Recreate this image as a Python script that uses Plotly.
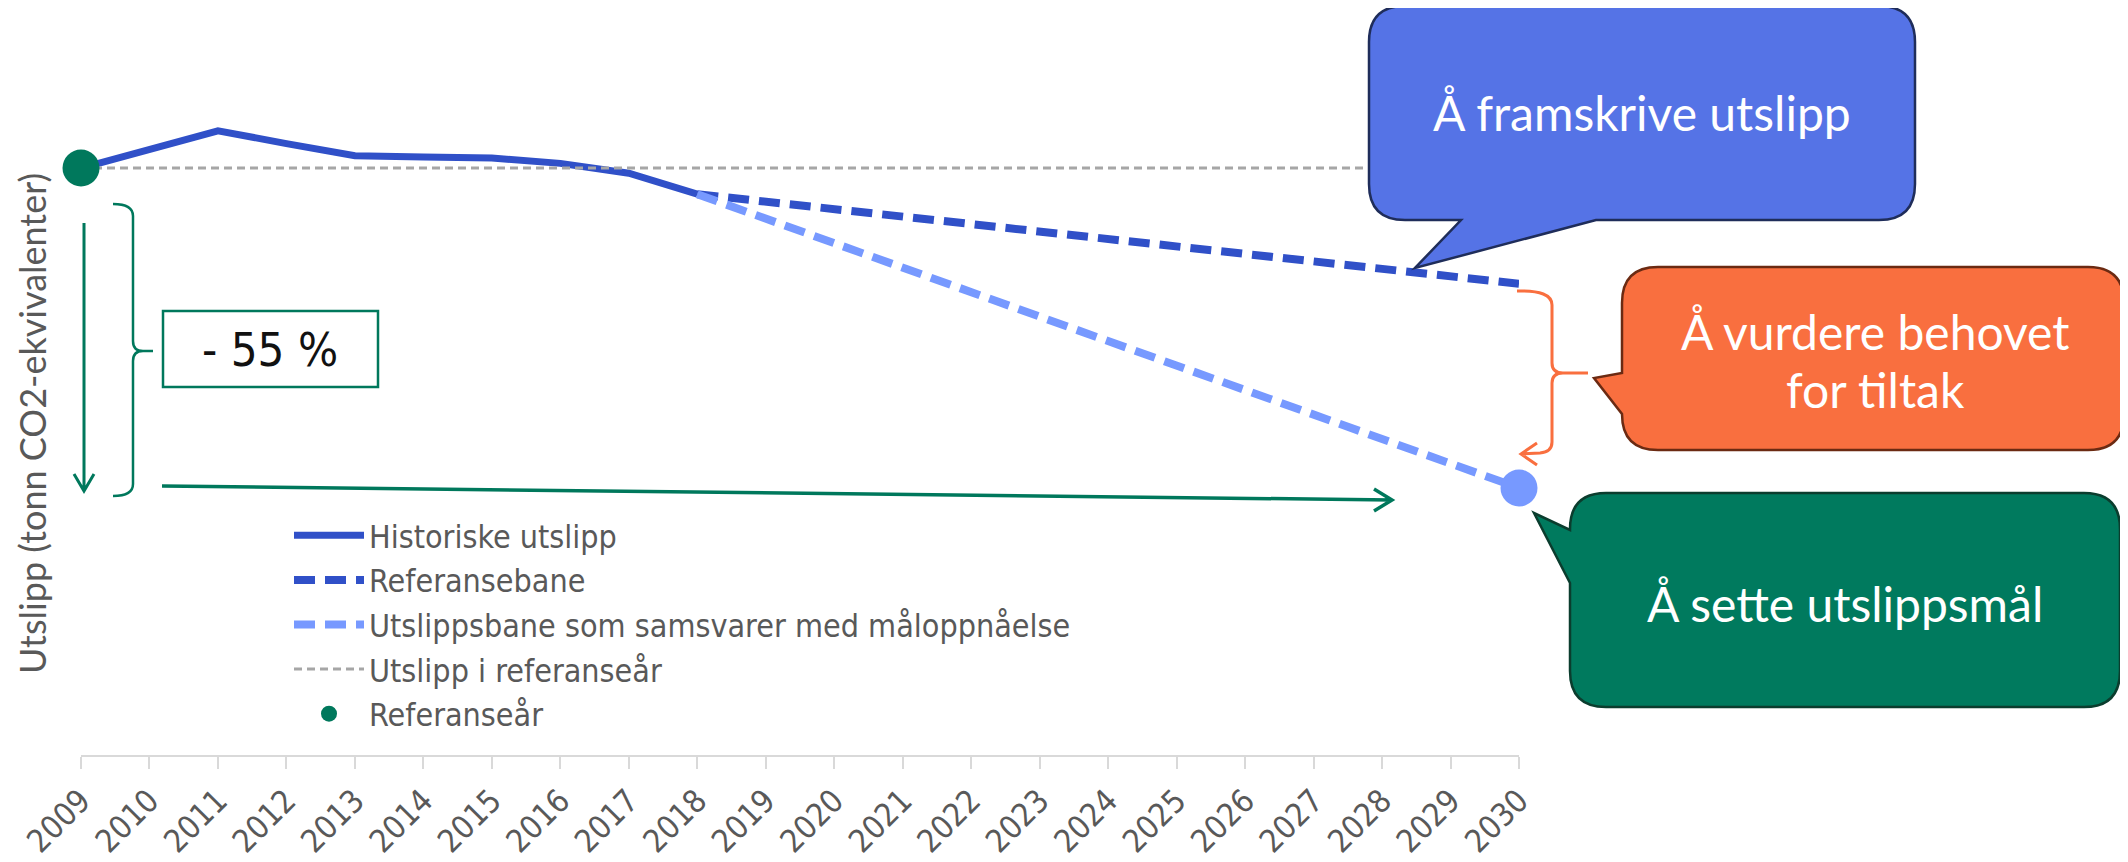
import plotly.graph_objects as go

# ---------------- data ----------------
hist_years = [2009, 2010, 2011, 2012, 2013, 2014, 2015, 2016, 2017, 2018]
hist_values = [100, 103.2, 106.4, 104.2, 102.1, 101.9, 101.7, 100.8, 99.1, 95.5]

proj_years = [2018, 2030]
reference_path = [95.5, 80.1]
target_path = [95.5, 45.0]

ref_level_years = [2009, 2030]
ref_level_values = [100, 100]

ref_year = [2009]
ref_year_value = [100]

target_year = [2030]
target_value = [45.0]

tick_years = [2009, 2010, 2011, 2012, 2013, 2014, 2015, 2016, 2017, 2018, 2019,
              2020, 2021, 2022, 2023, 2024, 2025, 2026, 2027, 2028, 2029, 2030]
tick_labels = ["2009", "2010", "2011", "2012", "2013", "2014", "2015", "2016",
               "2017", "2018", "2019", "2020", "2021", "2022", "2023", "2024",
               "2025", "2026", "2027", "2028", "2029", "2030"]

series_names = ["Historiske utslipp", "Referansebane",
                "Utslippsbane som samsvarer med måloppnåelse",
                "Utslipp i referanseår", "Referanseår"]

# ---------------- style ----------------
BLUE = "#3050C8"
LIGHT_BLUE = "#7799FF"
GREEN = "#00785C"
GREY = "#A6A6A6"
ORANGE = "#F96F3F"
TEXT = "#595959"
COND = "Liberation Sans Narrow, DejaVu Sans Condensed, Roboto, sans-serif"
MAIN = "Lato, Open Sans, sans-serif"

# the page body has an 8px margin: the figure starts at (8, 8) in the window
PAGE_OFF = 8
FW, FH = 2128 - PAGE_OFF, 862 - PAGE_OFF
PLOT_L, PLOT_R, PLOT_T, PLOT_B = 81, 1519, 20, 755      # plot area in window pixels
ML = PLOT_L - PAGE_OFF
MT = PLOT_T - PAGE_OFF
MR = PAGE_OFF + FW - PLOT_R
MB = PAGE_OFF + FH - PLOT_B
PW, PH = PLOT_R - PLOT_L, PLOT_B - PLOT_T


def px(x):
    return (x - PLOT_L) / PW


def py(y):
    return 1 - (y - PLOT_T) / PH


def P(*pts):
    return " ".join(f"{px(x):.5f},{py(y):.5f}" for x, y in pts)


fig = go.Figure()

fig.add_trace(go.Scatter(x=hist_years, y=hist_values, mode="lines",
                         name=series_names[0],
                         line=dict(color=BLUE, width=7)))
fig.add_trace(go.Scatter(x=proj_years, y=reference_path, mode="lines",
                         name=series_names[1],
                         line=dict(color=BLUE, width=8, dash="21px,10px")))
fig.add_trace(go.Scatter(x=proj_years, y=target_path, mode="lines",
                         name=series_names[2],
                         line=dict(color=LIGHT_BLUE, width=8, dash="21px,10px")))
fig.add_trace(go.Scatter(x=ref_level_years, y=ref_level_values, mode="lines",
                         name=series_names[3],
                         line=dict(color=GREY, width=3, dash="8px,5px")))
fig.add_trace(go.Scatter(x=ref_year, y=ref_year_value, mode="markers",
                         name=series_names[4], cliponaxis=False,
                         marker=dict(color=GREEN, size=37)))
fig.add_trace(go.Scatter(x=target_year, y=target_value, mode="markers",
                         showlegend=False, cliponaxis=False,
                         marker=dict(color=LIGHT_BLUE, size=37)))

shapes = []

# blue callout
x0, y0, x1, y1, r = 1369, 6, 1915, 220, 36
d = (f"M{P((x0 + r, y0))} L{P((x1 - r, y0))} Q{P((x1, y0), (x1, y0 + r))} "
     f"L{P((x1, y1 - r))} Q{P((x1, y1), (x1 - r, y1))} L{P((1596, y1))} "
     f"L{P((1415, 268))} L{P((1461, y1))} L{P((x0 + r, y1))} "
     f"Q{P((x0, y1), (x0, y1 - r))} L{P((x0, y0 + r))} Q{P((x0, y0), (x0 + r, y0))} Z")
shapes.append(dict(type="path", xref="paper", yref="paper", path=d,
                   fillcolor="#5573E6", line=dict(color="#1F2D5A", width=2.5), layer="above"))

# orange callout
x0, y0, x1, y1, r = 1622, 267, 2124, 450, 36
d = (f"M{P((x0 + r, y0))} L{P((x1 - r, y0))} Q{P((x1, y0), (x1, y0 + r))} "
     f"L{P((x1, y1 - r))} Q{P((x1, y1), (x1 - r, y1))} L{P((x0 + r, y1))} "
     f"Q{P((x0, y1), (x0, y1 - r))} L{P((1594, 378))} L{P((x0, 373))} "
     f"L{P((x0, y0 + r))} Q{P((x0, y0), (x0 + r, y0))} Z")
shapes.append(dict(type="path", xref="paper", yref="paper", path=d,
                   fillcolor=ORANGE, line=dict(color="#6B2A12", width=2.5), layer="above"))

# green callout
x0, y0, x1, y1, r = 1570, 493, 2120, 707, 36
d = (f"M{P((x0 + r, y0))} L{P((x1 - r, y0))} Q{P((x1, y0), (x1, y0 + r))} "
     f"L{P((x1, y1 - r))} Q{P((x1, y1), (x1 - r, y1))} L{P((x0 + r, y1))} "
     f"Q{P((x0, y1), (x0, y1 - r))} L{P((x0, 583))} L{P((1534, 513))} "
     f"L{P((x0, 530))} L{P((x0, y0 + r))} Q{P((x0, y0), (x0 + r, y0))} Z")
shapes.append(dict(type="path", xref="paper", yref="paper", path=d,
                   fillcolor="#007A5E", line=dict(color="#0B3D2E", width=2.5), layer="above"))

# orange brace + arrow
d = (f"M{P((1517, 291))} Q{P((1552, 290), (1552, 305))} L{P((1552, 363))} "
     f"Q{P((1552, 373), (1563, 373))} L{P((1588, 373))} "
     f"M{P((1563, 373))} Q{P((1552, 373), (1552, 383))} L{P((1552, 442))} "
     f"Q{P((1552, 452), (1540, 453))} L{P((1521, 454))} "
     f"M{P((1537, 443))} L{P((1521, 454))} L{P((1537, 465))}")
shapes.append(dict(type="path", xref="paper", yref="paper", path=d,
                   line=dict(color=ORANGE, width=3)))

# green brace
d = (f"M{P((113, 204))} Q{P((133, 204), (133, 216))} L{P((133, 341))} "
     f"Q{P((133, 351), (143, 351))} L{P((153, 351))} "
     f"M{P((143, 351))} Q{P((133, 351), (133, 361))} L{P((133, 484))} "
     f"Q{P((133, 496), (113, 496))}")
shapes.append(dict(type="path", xref="paper", yref="paper", path=d,
                   line=dict(color=GREEN, width=2.5)))

# green vertical arrow
d = f"M{P((84, 223))} L{P((84, 491))} M{P((74, 474))} L{P((84, 491))} L{P((94, 474))}"
shapes.append(dict(type="path", xref="paper", yref="paper", path=d,
                   line=dict(color=GREEN, width=3)))

# green horizontal arrow
d = f"M{P((162, 486))} L{P((1392, 500))} M{P((1374, 489))} L{P((1392, 500))} L{P((1374, 511))}"
shapes.append(dict(type="path", xref="paper", yref="paper", path=d,
                   line=dict(color=GREEN, width=3.5)))

# -55 % box
shapes.append(dict(type="rect", xref="paper", yref="paper",
                   x0=px(163), x1=px(378), y0=py(311), y1=py(387),
                   fillcolor="white", line=dict(color=GREEN, width=2.5)))

CALLOUT_FONT = dict(family=MAIN, size=48, color="white")
annotations = [
    dict(text="Å framskrive utslipp", x=px(1642), y=py(113), font=CALLOUT_FONT),
    dict(text="Å vurdere behovet", x=px(1875), y=py(331), font=CALLOUT_FONT),
    dict(text="for tiltak", x=px(1875), y=py(389), font=CALLOUT_FONT),
    dict(text="Å sette utslippsmål", x=px(1845), y=py(603), font=CALLOUT_FONT),
    dict(text="- 55 %", x=px(270), y=py(349), font=dict(family=COND, size=47, color="#111111")),
    dict(text="Utslipp (tonn CO2-ekvivalenter)", x=px(32), y=py(424), textangle=-90,
         font=dict(family=MAIN, size=36, color=TEXT)),
]
for a in annotations:
    a.update(xref="paper", yref="paper", showarrow=False, xanchor="center", yanchor="middle")

fig.update_layout(
    width=FW, height=FH,
    margin=dict(l=ML, r=MR, t=MT, b=MB, autoexpand=False),
    paper_bgcolor="white", plot_bgcolor="white",
    shapes=shapes, annotations=annotations,
    showlegend=True,
    legend=dict(x=px(289), y=py(508), xanchor="left", yanchor="top",
                font=dict(family=COND, size=32, color=TEXT),
                bgcolor="rgba(0,0,0,0)", itemwidth=70, tracegroupgap=0),
    xaxis=dict(range=[2009, 2030], tickmode="array", tickvals=tick_years, ticktext=tick_labels,
               tickangle=-45, ticks="outside", ticklen=12, tickcolor="#D9D9D9", tickwidth=2,
               showline=True, linecolor="#D9D9D9", linewidth=2, showgrid=False, zeroline=False,
               automargin=False,
               tickfont=dict(family=COND, size=32, color=TEXT)),
    yaxis=dict(range=[-0.89, 125.44], visible=False, showgrid=False, zeroline=False,
               automargin=False),
)

fig.write_html("out.html")
